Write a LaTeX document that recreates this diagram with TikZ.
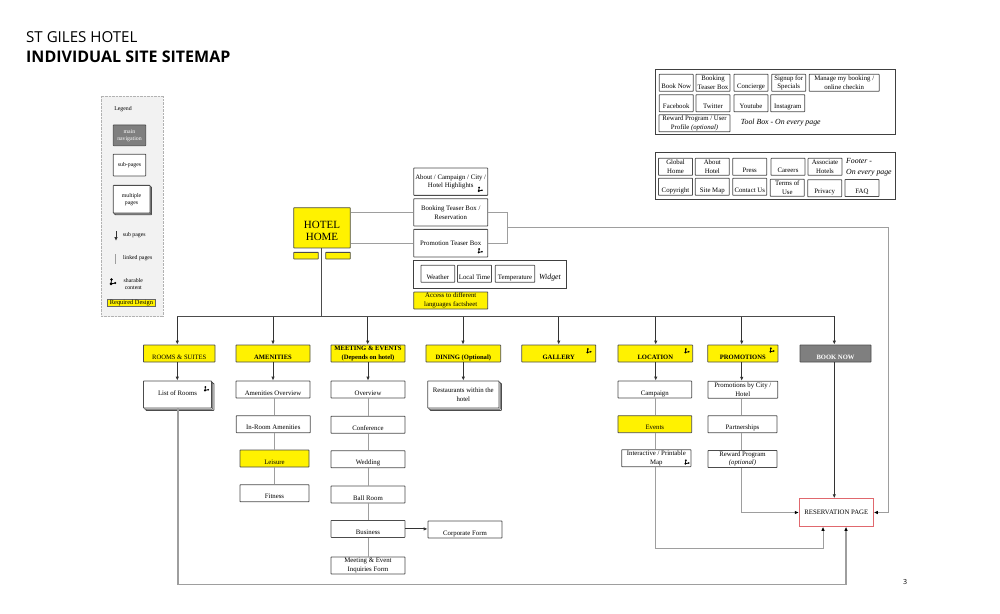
\documentclass[tikz,border=0pt]{standalone}
\usepackage{fontspec}
\setmainfont{Liberation Serif}
\newfontfamily\titlefont{Open Sans}
\usetikzlibrary{arrows.meta,shadows}
\definecolor{siteyellow}{HTML}{FFF200}
\definecolor{navgray}{HTML}{7F7F7F}
\definecolor{resred}{HTML}{E0686E}
\tikzset{
	every node/.style={inner sep=0pt,font=\fontsize{6.8}{8.6}\selectfont,align=center},
	page/.style={draw=black!70,line width=0.8pt,fill=white,rounded corners=0.5pt,minimum width=74pt,minimum height=17pt},
	low/.style={text height=11pt,text depth=0pt},
	yellowpage/.style={page,fill=siteyellow},
	navpage/.style={yellowpage,minimum width=74pt,font=\fontsize{6.6}{8.6}\selectfont\bfseries},
	stackpage/.style={page,minimum height=27pt,double copy shadow={shadow xshift=1.2pt,shadow yshift=-1.2pt,draw=black!70,fill=white}},
	btn/.style={page,minimum width=34pt},
	panel/.style={draw=black!75,line width=0.9pt,fill=white},
	note/.style={font=\fontsize{7.8}{10.6}\selectfont\itshape},
	legendtext/.style={font=\fontsize{5.8}{7}\selectfont},
	link/.style={draw=black!38,line width=1pt},
	arrow/.style={draw=black!80,line width=0.9pt,-{Latex[length=4pt,width=3.5pt]}},
	linkarrow/.style={link,-{Latex[length=4pt,width=3.5pt,color=black]}},
	sharemark/.pic={
		\draw[black,line width=0.8pt] (-1.3,1.7) -- (-0.9,-1.7) (-1.3,1.7) -- (2,1);
		\fill[black] (-0.9,-1.7) circle (1) (-1.3,1.7) circle (1.1) (2,1) circle (0.9);
	}
}
\begin{document}
\begin{tikzpicture}[x=1pt,y=-1pt]
		%%%%% START %%%%%
		\useasboundingbox (0,0) rectangle (1000,613);
		
		\node[anchor=base west,font=\fontsize{15.1}{18}\titlefont] (title) at (26,42) {ST GILES HOTEL};
		\node[anchor=base west,font=\fontsize{16}{18}\titlefont\bfseries] (subtitle) at (26,62) {INDIVIDUAL SITE SITEMAP};
		\node[font=\fontsize{7}{8}\titlefont] (pagenum) at (905,582) {3};
		
		% legend
		\node[draw=black!30,densely dotted,fill=black!5,minimum width=62.6pt,minimum height=220.7pt] (legend) at (132,206.3) {};
		\node[legendtext] (legendtitle) at (123,109.3) {Legend};
		\node[page,fill=navgray,text=white,minimum width=32.4pt,minimum height=20.7pt,legendtext] (legendnav) at (129.5,135.3) {main\\navigation};
		\node[page,minimum width=32.4pt,minimum height=21.7pt,legendtext,text height=9pt,text depth=7pt] (legendsub) at (129.5,165.1) {sub-pages};
		\node[page,minimum width=36.7pt,minimum height=27.7pt,legendtext,double copy shadow={shadow xshift=0.8pt,shadow yshift=-0.8pt,draw=black!70,fill=white}] (legendmulti) at (131.6,199.2) {multiple\\pages};
		\coordinate (legendarrowtop) at (116,231);
		\coordinate (legendarrowend) at (116,241);
		\draw[arrow] (legendarrowtop) -- (legendarrowend);
		\node[legendtext] (legendsubtext) at (134.3,235.3) {sub pages};
		\coordinate (legendlinktop) at (115.7,254);
		\coordinate (legendlinkend) at (115.7,263.5);
		\draw[link] (legendlinktop) -- (legendlinkend);
		\node[legendtext] (legendlinktext) at (137.7,257.7) {linked pages};
		\pic[scale=1.3] at (112.7,281.7) {sharemark};
		\node[legendtext] (legendsharetext) at (133.3,283.6) {sharable\\content};
		\node[draw=black!60,line width=0.5pt,fill=siteyellow,minimum width=48.4pt,minimum height=7pt,font=\fontsize{6.4}{7}\selectfont] (legendreq) at (131.5,302.5) {Required Design};
		
		% tool box
		\node[panel,minimum width=240.3pt,minimum height=64.7pt] (toolbox) at (775.2,101.6) {};
		\node[btn,low] (booknowbtn) at (676.2,82.8) {Book Now};
		\node[btn] (teaserbtn) at (713,82.8) {Booking\\Teaser Box};
		\node[btn,low] (concierge) at (751,82.8) {Concierge};
		\node[btn] (signup) at (788.7,82.8) {Signup for\\Specials};
		\node[btn,minimum width=70pt] (manage) at (844.2,82.8) {Manage my booking /\\online checkin};
		\node[btn,low] (facebook) at (676.2,103.2) {Facebook};
		\node[btn,low] (twitter) at (713,103.2) {Twitter};
		\node[btn,low] (youtube) at (751,103.2) {Youtube};
		\node[btn,low] (instagram) at (787.7,103.2) {Instagram};
		\node[btn,minimum width=71pt] (rewardbtn) at (694.5,123.2) {Reward  Program / User\\Profile \textit{(optional)}};
		\node[note] (toolnote) at (780.8,123) {Tool Box - On every page};
		
		% footer
		\node[panel,minimum width=240.3pt,minimum height=46.6pt] (footerbox) at (775.2,176) {};
		\node[btn] (globalhome) at (675.5,166.8) {Global\\Home};
		\node[btn] (abouthotel) at (712.3,166.8) {About\\Hotel};
		\node[btn,low] (press) at (749.7,166.8) {Press};
		\node[btn,low] (careers) at (788,166.8) {Careers};
		\node[btn] (associate) at (825,166.8) {Associate\\Hotels};
		\node[btn,low] (copyright) at (675.5,186.8) {Copyright};
		\node[btn,low] (sitemap) at (712.3,186.8) {Site Map};
		\node[btn,low] (contact) at (749.7,186.8) {Contact Us};
		\node[btn] (terms) at (787.3,187.8) {Terms of\\Use};
		\node[btn,low] (privacy) at (824.7,188.2) {Privacy};
		\node[btn,low] (faq) at (862,188) {FAQ};
		\node[note,anchor=west,align=left] (footernote) at (846,167) {Footer -\\On every page};
		
		% home
		\node[yellowpage,minimum width=56.6pt,minimum height=40.3pt,font=\fontsize{11}{11.7}\selectfont] (hotel) at (322,227.8) {\rule{0pt}{14pt}HOTEL\\HOME};
		\node[yellowpage,minimum width=24.6pt,minimum height=6.7pt] (tabone) at (306,255.7) {};
		\node[yellowpage,minimum width=24.6pt,minimum height=6.7pt] (tabtwo) at (338,255.7) {};
		\node[page,minimum height=27.3pt] (about) at (450.7,181.7) {About / Campaign / City /\\Hotel Highlights};
		\node[page,minimum height=27.3pt] (booking) at (450.7,212.4) {Booking Teaser Box /\\Reservation};
		\node[page,minimum height=27.7pt] (teaser) at (450.7,243.2) {Promotion Teaser Box};
		\node[panel,minimum width=152.6pt,minimum height=28pt] (widgetbox) at (490,274.3) {};
		\node[btn,low,minimum width=33.7pt] (weather) at (437.8,273.8) {Weather};
		\node[btn,low] (localtime) at (474.5,273.8) {Local Time};
		\node[btn,low,minimum width=39.4pt] (temperature) at (515,273.8) {Temperature};
		\node[note] (widgetnote) at (550,278) {Widget};
		\node[yellowpage] (access) at (450.7,300.5) {Access to different\\languages factsheet};
		
		\coordinate (teaserjoin) at (507.3,227.7);
		\coordinate (joinright) at (888.7,227.7);
		\draw[link] (hotel.east |- booking) -- (booking);
		\draw[link] (hotel.east |- teaser) -- (teaser);
		\draw[link] (booking.east) -- (booking.east -| teaserjoin) -- (teaser.east -| teaserjoin) -- (teaser.east);
		\draw[link] (teaserjoin) -- (joinright);
		
		% main navigation
		\node[navpage,minimum width=71.5pt,font=\fontsize{6.6}{8.6}\selectfont,low] (rooms) at (179.25,353.5) {ROOMS \& SUITES};
		\node[navpage,low] (amenities) at (273,353.5) {AMENITIES};
		\node[navpage] (meeting) at (368,353.5) {MEETING \& EVENTS\\(Depends on hotel)};
		\node[navpage,minimum width=74.7pt,low] (dining) at (463.3,353.5) {DINING (Optional)};
		\node[navpage,low] (gallery) at (558.8,353.5) {GALLERY};
		\node[navpage,minimum width=74.7pt,low] (location) at (655.3,353.5) {LOCATION};
		\node[navpage,minimum width=70.3pt,low] (promotions) at (742.8,353.5) {PROMOTIONS};
		\node[navpage,minimum width=71pt,fill=navgray,text=white,low] (booknow) at (835.5,353.5) {BOOK NOW};
		
		% sub pages
		\node[stackpage,minimum width=68pt,text height=13pt,text depth=12pt] (listrooms) at (177.5,394.5) {List of Rooms};
		
		\node[page,low] (amenover) at (273,389.5) {Amenities Overview};
		\node[page,low] (inroom) at (273.3,424.2) {In-Room Amenities};
		\node[yellowpage,low,minimum width=69pt] (leisure) at (274.5,458.5) {Leisure};
		\node[page,low,minimum width=69pt] (fitness) at (274.5,493.3) {Fitness};
		
		\node[page,low] (overview) at (368,389.5) {Overview};
		\node[page,low] (conference) at (368,424.7) {Conference};
		\node[page,low] (wedding) at (368,459.2) {Wedding};
		\node[page,low] (ballroom) at (368,494.5) {Ball Room};
		\node[page,low] (business) at (368,528.9) {Business};
		\node[page] (inquiries) at (368,565.5) {Meeting \& Event\\Inquiries  Form};
		\node[page,low] (corporate) at (465,529.5) {Corporate Form};
		
		\node[stackpage,minimum width=71.3pt] (restaurants) at (463.3,394.5) {Restaurants within the\\hotel};
		
		\node[page,low,minimum width=73.7pt] (campaign) at (654.8,389.5) {Campaign};
		\node[yellowpage,low,minimum width=73.7pt] (events) at (654.8,424.2) {Events};
		\node[page,minimum width=69.3pt] (interactive) at (656.3,458.2) {Interactive / Printable\\Map};
		
		\node[page,minimum width=69.7pt] (promocity) at (742.8,389.7) {Promotions by City /\\Hotel};
		\node[page,low,minimum width=69pt] (partnerships) at (742.5,424.2) {Partnerships};
		\node[page,minimum width=69pt] (rewardprog) at (742.5,459) {Reward  Program\\\textit{(optional)}};
		
		\node[draw=resred,line width=0.9pt,fill=white,minimum width=74pt,minimum height=27.6pt] (reservation) at (836.3,512.5) {RESERVATION PAGE};
		
		% bus
		\coordinate (bustrunk) at (321.7,316);
		\draw[draw=black!70,line width=0.9pt] (hotel.south -| bustrunk) -- (bustrunk);
		\foreach \n/\x in {rooms/177.3,amenities/273,meeting/367.7,dining/463,gallery/558.7,location/655.7,promotions/741.7,booknow/834.3}{
			\coordinate (bus\n) at (\x,316);
			\draw[arrow] (bus\n) -- (bus\n |- \n.north);
		}
		\draw[draw=black!70,line width=0.9pt] (busrooms) -- (busbooknow);
		
		% down arrows
		\draw[arrow] (busrooms |- rooms.south) -- (busrooms |- listrooms.north);
		\draw[arrow] (amenities.south) -- (amenities.south |- amenover.north);
		\draw[arrow] (meeting.south) -- (meeting.south |- overview.north);
		\draw[arrow] (dining.south) -- (dining.south |- restaurants.north);
		\draw[arrow] (buslocation |- location.south) -- (buslocation |- campaign.north);
		\draw[arrow] (buspromotions |- promotions.south) -- (buspromotions |- promocity.north);
		\draw[arrow] (busbooknow |- booknow.south) -- (busbooknow |- reservation.north);
		\draw[arrow] (business.east) -- (corporate.west |- business.east);
		
		% column links
		\draw[link] (amenover.south -| leisure) -- (inroom.north -| leisure);
		\draw[link] (inroom.south -| leisure) -- (leisure.north);
		\draw[link] (leisure.south) -- (fitness.north);
		\draw[link] (overview.south) -- (conference.north);
		\draw[link] (conference.south) -- (wedding.north);
		\draw[link] (wedding.south) -- (ballroom.north);
		\draw[link] (ballroom.south) -- (business.north);
		\draw[link] (business.south) -- (inquiries.north);
		\draw[link] (buslocation |- campaign.south) -- (buslocation |- events.north);
		\draw[link] (buslocation |- events.south) -- (buslocation |- interactive.north);
		\draw[link] (buspromotions |- promocity.south) -- (buspromotions |- partnerships.north);
		\draw[link] (buspromotions |- partnerships.south) -- (buspromotions |- rewardprog.north);
		
		% into reservation
		\coordinate (maplow) at (823,548);
		\coordinate (roomslow) at (846,584.4);
		\coordinate (roomsdrop) at (178,420);
		\draw[linkarrow] (buspromotions |- rewardprog.south) |- (reservation.west);
		\draw[linkarrow] (joinright) |- (reservation.east);
		\draw[linkarrow] (buslocation |- interactive.south) |- (maplow) -- (maplow |- reservation.south);
		\draw[linkarrow,line width=1.2pt] (roomsdrop |- listrooms.south) |- (roomslow) -- (roomslow |- reservation.south);
		
		% sharable marks
		\pic at (480,189.3) {sharemark};
		\pic at (480,250.7) {sharemark};
		\pic at (206.3,388.7) {sharemark};
		\pic at (588.7,350.7) {sharemark};
		\pic at (686.7,350.7) {sharemark};
		\pic at (686.7,462) {sharemark};
		\pic at (771.7,350) {sharemark};
		
		%%%%% END %%%%%
	\end{tikzpicture}
\end{document}
